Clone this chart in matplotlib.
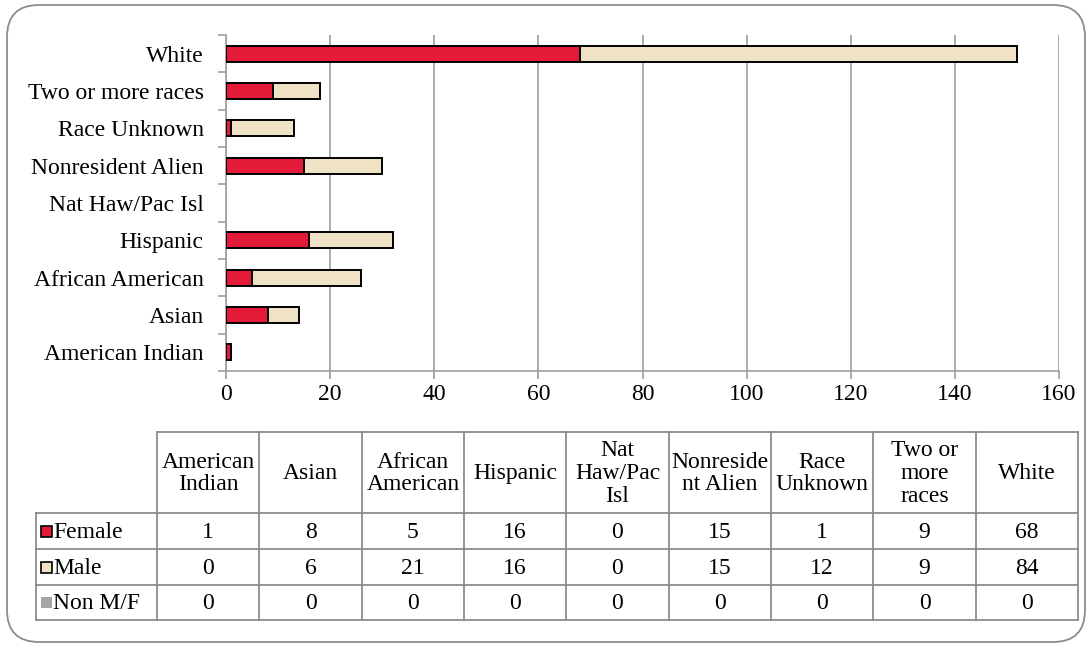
import matplotlib
matplotlib.use("Agg")
import matplotlib.pyplot as plt
from matplotlib.patches import FancyBboxPatch, Rectangle
import numpy as np

# ---------------- data ----------------
categories = ["American Indian", "Asian", "African American", "Hispanic",
              "Nat Haw/Pac Isl", "Nonresident Alien", "Race Unknown",
              "Two or more races", "White"]
header_labels = ["American\nIndian", "Asian", "African\nAmerican", "Hispanic",
                 "Nat\nHaw/Pac\nIsl", "Nonreside\nnt Alien", "Race\nUnknown",
                 "Two or\nmore\nraces", "White"]
female = [1, 8, 5, 16, 0, 15, 1, 9, 68]
male = [0, 6, 21, 16, 0, 15, 12, 9, 84]
non_mf = [0, 0, 0, 0, 0, 0, 0, 0, 0]
series_names = ["Female", "Male", "Non M/F"]
x_ticks = [0, 20, 40, 60, 80, 100, 120, 140, 160]

# ---------------- style ----------------
FONT = "Liberation Serif"
plt.rcParams["font.family"] = [FONT, "DejaVu Serif"]
C_F = "#E31B38"
C_M = "#F0E2C4"
C_N = "#A6A6A6"
GRID = "#A0A0A0"
LABEL_FS = 17
TICK_FS = 17
TABLE_FS = 17

W, H = 1088, 645
fig = plt.figure(figsize=(W / 100, H / 100), dpi=100)

# background overlay in pixel coordinates
bg = fig.add_axes([0, 0, 1, 1])
bg.set_xlim(0, W)
bg.set_ylim(H, 0)
bg.axis("off")
box = FancyBboxPatch((7, 5), 1078, 637, boxstyle="round,pad=0,rounding_size=32",
                     facecolor="white", edgecolor="#8C8C8C", lw=1.3)
bg.add_patch(box)

# ---------------- chart ----------------
L, R, T, B = 226, 1059, 35, 371
ax = fig.add_axes([L / W, 1 - B / H, (R - L) / W, (B - T) / H])
ax.patch.set_alpha(0)
y = np.arange(len(categories))
bh = 0.42
f_arr = np.array(female)
m_arr = np.array(male)
n_arr = np.array(non_mf)
ax.barh(y, f_arr, height=bh, color=C_F,
        edgecolor=["black" if v > 0 else "none" for v in f_arr], lw=1.4, zorder=3)
ax.barh(y, m_arr, left=f_arr, height=bh, color=C_M,
        edgecolor=["black" if v > 0 else "none" for v in m_arr], lw=1.4, zorder=3)
ax.barh(y, n_arr, left=f_arr + m_arr, height=bh, color=C_N,
        edgecolor="none", zorder=3)
ax.set_xlim(0, 160)
ax.set_ylim(-0.5, len(categories) - 0.5)
ax.set_xticks(x_ticks)
ax.set_yticks(y)
ax.set_yticklabels(categories)
ax.set_yticks(np.arange(-0.5, len(categories), 1.0), minor=True)
ax.tick_params(axis="y", which="major", length=0, pad=16, labelsize=LABEL_FS)
ax.tick_params(axis="y", which="minor", length=6, color=GRID, width=1.2)
ax.tick_params(axis="x", length=6, color=GRID, width=1.2, labelsize=TICK_FS, pad=3)
ax.xaxis.grid(True, color=GRID, lw=1.2, zorder=0)
ax.set_axisbelow(True)
for s in ["top", "right"]:
    ax.spines[s].set_visible(False)
for s in ["left", "bottom"]:
    ax.spines[s].set_color(GRID)
    ax.spines[s].set_linewidth(1.2)

# ---------------- data table ----------------
TL = 36          # left of row-label column
C0 = 157         # start of data columns
TR = 1078        # right edge
rows_y = [432, 513, 549, 585, 620]
ncol = len(categories)
colw = (TR - C0) / ncol
col_x = [C0 + i * colw for i in range(ncol + 1)]
LC = "#8C8C8C"
lw = 1.3
bg.plot([C0, TR], [rows_y[0], rows_y[0]], color=LC, lw=lw)
for yy in rows_y[1:]:
    bg.plot([TL, TR], [yy, yy], color=LC, lw=lw)
bg.plot([TL, TL], [rows_y[1], rows_y[-1]], color=LC, lw=lw)
for xx in col_x:
    bg.plot([xx, xx], [rows_y[0], rows_y[-1]], color=LC, lw=lw)

for i, lab in enumerate(header_labels):
    cx = (col_x[i] + col_x[i + 1]) / 2
    cy = (rows_y[0] + rows_y[1]) / 2
    bg.text(cx, cy + 1, lab, ha="center", va="center", fontsize=TABLE_FS,
            linespacing=1.12)

series = [female, male, non_mf]
colors = [C_F, C_M, C_N]
edges = ["black", "black", "none"]
for r, (name, vals) in enumerate(zip(series_names, series)):
    cy = (rows_y[r + 1] + rows_y[r + 2]) / 2
    bg.add_patch(Rectangle((41, cy - 5.5), 11, 11, facecolor=colors[r],
                           edgecolor=edges[r], lw=1.2))
    bg.text(53, cy + 1, name, ha="left", va="center", fontsize=TABLE_FS)
    for i, v in enumerate(vals):
        cx = (col_x[i] + col_x[i + 1]) / 2
        bg.text(cx, cy + 1, str(v), ha="center", va="center", fontsize=TABLE_FS)

fig.savefig("out.png", dpi=100)
